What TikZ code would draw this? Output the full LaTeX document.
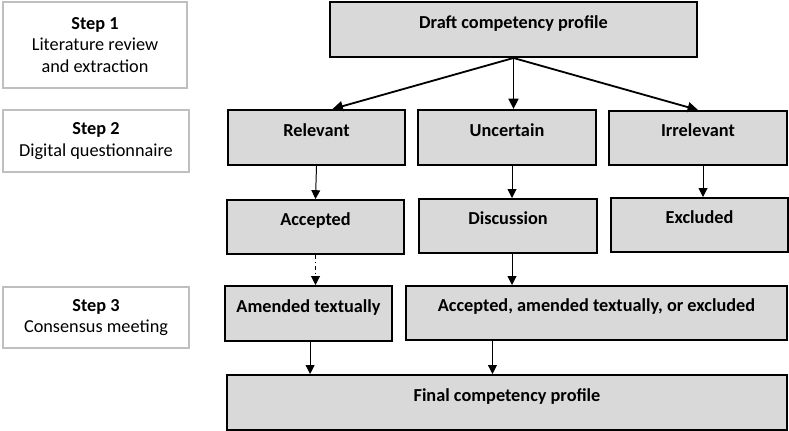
\documentclass[tikz,border=0pt]{standalone}
\usepackage{fontspec}
\setmainfont{Carlito}
\usetikzlibrary{arrows.meta}

\begin{document}
\begin{tikzpicture}[x=0.025cm, y=-0.025cm, >={Triangle[length=2.2mm,width=2.2mm]},
 every node/.style={font=\fontsize{13}{15.5}\selectfont},
 stepbox/.style={draw=black!25, line width=1.2pt, align=center, inner sep=2pt},
 stagebox/.style={draw, line width=1.4pt, fill=black!15, font=\fontsize{13}{15.5}\selectfont\bfseries,
   text height=8pt, text depth=10pt, inner sep=2pt},
 split/.style={->, line width=1.3pt, >={Triangle[length=2.6mm,width=2.5mm]}},
 flow/.style={->, line width=0.7pt}]
 \useasboundingbox (0,0) rectangle (789,431);
 % steps on the left
 \node[stepbox, minimum width=4.6cm, minimum height=2.15cm] (step1) at (95,45)
   {\textbf{Step 1}\\Literature review\\and extraction};
 \node[stepbox, minimum width=4.65cm, minimum height=1.55cm] (step2) at (96,141)
   {\textbf{Step 2}\\Digital questionnaire};
 \node[stepbox, minimum width=4.65cm, minimum height=1.525cm] (step3) at (96,317.5)
   {\textbf{Step 3}\\Consensus meeting};
 % flow boxes
 \node[stagebox, minimum width=9.175cm, minimum height=1.375cm] (draft) at (513.5,29.5) {Draft competency profile};
 \node[stagebox, minimum width=4.425cm, minimum height=1.375cm] (rel) at (316.5,137.5) {Relevant};
 \node[stagebox, minimum width=4.45cm, minimum height=1.375cm] (unc) at (507,137.5) {Uncertain};
 \node[stagebox, minimum width=4.45cm, minimum height=1.35cm] (irr) at (698,138) {Irrelevant};
 \node[stagebox, minimum width=4.425cm, minimum height=1.35cm] (acc) at (315.5,227) {Accepted};
 \node[stagebox, minimum width=4.45cm, minimum height=1.35cm] (disc) at (508,226) {Discussion};
 \node[stagebox, minimum width=4.425cm, minimum height=1.35cm] (exc) at (699.5,225) {Excluded};
 \node[stagebox, minimum width=4.175cm, minimum height=1.375cm] (amd) at (308.5,313.5) {Amended textually};
 \node[stagebox, minimum width=9.525cm, minimum height=1.35cm] (aae) at (596.5,313) {Accepted, amended textually, or excluded};
 \node[stagebox, minimum width=14cm, minimum height=1.375cm] (final) at (507,402.5) {Final competency profile};
 % arrows
 \draw[split] (draft.south) -- ([xshift=4mm]rel.north);
 \draw[split] (draft.south) -- (draft.south |- unc.north);
 \draw[split] (draft.south) -- (irr.north);
 \draw[flow] (rel.south) -- (acc.north);
 \draw[flow] ([xshift=1.25mm]unc.south) -- ([xshift=1.25mm]unc.south |- disc.north);
 \draw[flow] ([xshift=1.25mm]irr.south) -- ([xshift=1.25mm]irr.south |- exc.north);
 \draw[flow, dashdotted] (acc.south) -- (acc.south |- amd.north);
 \draw[flow] ([xshift=1mm]disc.south) -- ([xshift=1mm]disc.south |- aae.north);
 \draw[flow] ([xshift=0.4mm]amd.south) -- ([xshift=0.4mm]amd.south |- final.north);
 \draw[flow] ([xshift=-2.6cm]aae.south) -- ([xshift=-2.6cm]aae.south |- final.north);
\end{tikzpicture}
\end{document}
